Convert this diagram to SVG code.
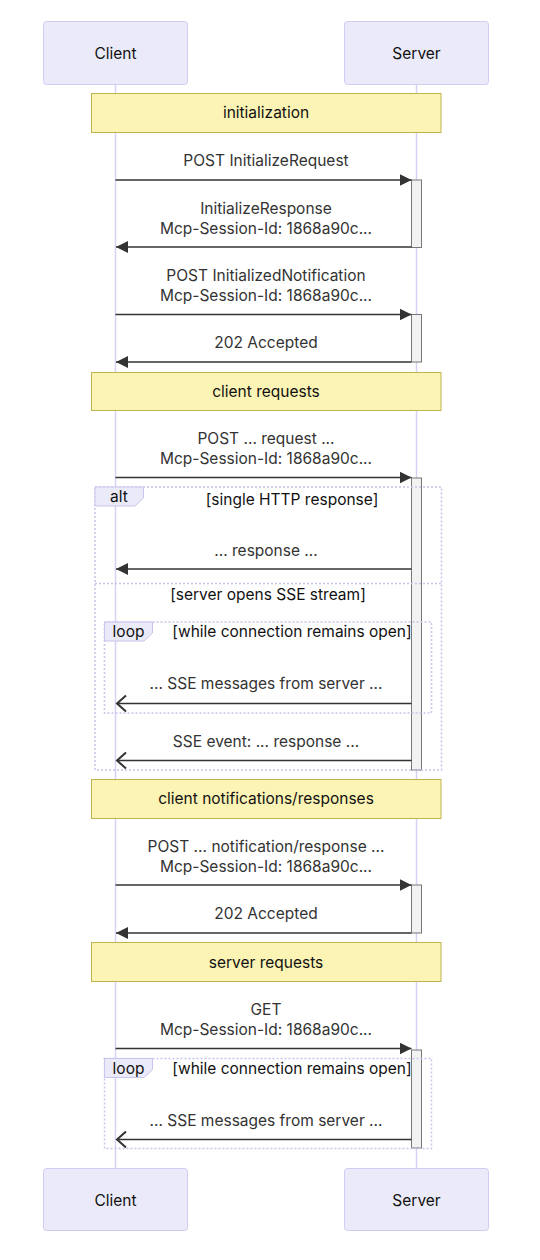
<svg xmlns="http://www.w3.org/2000/svg" width="540" height="1260" viewBox="0 0 540 1260">
<style>
text{font-family:Inter,"Noto Sans",sans-serif;font-size:15.5px;text-anchor:middle}
.actor{fill:#eaeaf8;stroke:#d0ccf2;stroke-width:1}
.actor-t{fill:#111}
.life{stroke:#d6d2f3;stroke-width:1.5}
.note{fill:#fcf4b4;stroke:#bdb450;stroke-width:1}
.note-t{fill:#111}
.msg{stroke:#333;stroke-width:1.5;fill:none}
.msg-t{fill:#333}
.act{fill:#f2f2f2;stroke:#777;stroke-width:1}
.frame{fill:none;stroke:#c8c4ec;stroke-width:1.5;stroke-dasharray:2,2}
.lbl{fill:#eaeaf8;stroke:#c8c4ec;stroke-width:1}
.lbl-t{fill:#111}
</style>
<defs>
<marker id="filled" markerUnits="userSpaceOnUse" markerWidth="14" markerHeight="12" refX="12" refY="6" orient="auto">
<path d="M0,0 L12,6 L0,12 z" fill="#333"/>
</marker>
<marker id="open" markerUnits="userSpaceOnUse" markerWidth="14" markerHeight="20" refX="11" refY="10" orient="auto" overflow="visible">
<path d="M2,2 L11,10 L2,18" fill="none" stroke="#333" stroke-width="2"/>
</marker>
</defs>
<g id="lifelines">
<line class="life" x1="115.5" y1="84" x2="115.5" y2="1168"/>
<line class="life" x1="416.5" y1="84" x2="416.5" y2="1168"/>
</g>
<g id="client-top"><rect class="actor" x="43.5" y="21.5" width="144" height="63" rx="3"/><text class="actor-t" x="115.5" y="59">Client</text></g>
<g id="server-top"><rect class="actor" x="344.5" y="21.5" width="144" height="63" rx="3"/><text class="actor-t" x="416.5" y="59">Server</text></g>
<g id="client-bottom"><rect class="actor" x="43.5" y="1168.5" width="144" height="62" rx="3"/><text class="actor-t" x="115.5" y="1206">Client</text></g>
<g id="server-bottom"><rect class="actor" x="344.5" y="1168.5" width="144" height="62" rx="3"/><text class="actor-t" x="416.5" y="1206">Server</text></g>

<g id="note-init"><rect class="note" x="91.5" y="93.5" width="349.5" height="39"/><text class="note-t" x="266" y="118">initialization</text></g>
<g id="note-client-requests"><rect class="note" x="91.5" y="372.5" width="349.5" height="38"/><text class="note-t" x="266" y="397">client requests</text></g>
<g id="note-client-notif"><rect class="note" x="91.5" y="779.5" width="349.5" height="39"/><text class="note-t" x="266" y="804">client notifications/responses</text></g>
<g id="note-server-requests"><rect class="note" x="91.5" y="942.5" width="349.5" height="39"/><text class="note-t" x="266" y="967.5">server requests</text></g>

<g id="activations">
<rect class="act" x="411.5" y="180" width="10" height="67.5"/>
<rect class="act" x="411.5" y="314.5" width="10" height="47.5"/>
<rect class="act" x="411.5" y="478" width="10" height="292"/>
<rect class="act" x="411.5" y="885" width="10" height="48"/>
<rect class="act" x="411.5" y="1050" width="10" height="98"/>
</g>

<g id="frames">
<g id="alt-frame">
<rect class="frame" x="95" y="487" width="346.5" height="283"/>
<line class="frame" x1="95" y1="583.5" x2="441.5" y2="583.5"/>
<polygon class="lbl" points="95,487 143.5,487 143.5,498 135,506 95,506"/>
<text class="lbl-t" x="119" y="502">alt</text>
<text class="lbl-t" x="292" y="505">[single HTTP response]</text>
<text class="lbl-t" x="268" y="600">[server opens SSE stream]</text>
</g>
<g id="loop-frame-1">
<rect class="frame" x="104.5" y="622" width="327" height="91"/>
<polygon class="lbl" points="104.5,622 152.5,622 152.5,633 144,641 104.5,641"/>
<text class="lbl-t" x="128.5" y="637">loop</text>
<text class="lbl-t" x="292" y="637">[while connection remains open]</text>
</g>
<g id="loop-frame-2">
<rect class="frame" x="104.5" y="1058.5" width="327" height="90"/>
<polygon class="lbl" points="104.5,1058.5 152.5,1058.5 152.5,1069.5 144,1077.5 104.5,1077.5"/>
<text class="lbl-t" x="128.5" y="1074">loop</text>
<text class="lbl-t" x="292" y="1074">[while connection remains open]</text>
</g>
</g>

<g id="connectors">
<line class="msg" x1="115.5" y1="180" x2="411.5" y2="180" marker-end="url(#filled)"/>
<line class="msg" x1="411.5" y1="247" x2="116" y2="247" marker-end="url(#filled)"/>
<line class="msg" x1="115.5" y1="314.5" x2="411.5" y2="314.5" marker-end="url(#filled)"/>
<line class="msg" x1="411.5" y1="362" x2="116" y2="362" marker-end="url(#filled)"/>
<line class="msg" x1="115.5" y1="477.5" x2="411.5" y2="477.5" marker-end="url(#filled)"/>
<line class="msg" x1="411.5" y1="569" x2="116" y2="569" marker-end="url(#filled)"/>
<line class="msg" x1="411.5" y1="703.5" x2="117" y2="703.5" marker-end="url(#open)"/>
<line class="msg" x1="411.5" y1="760.5" x2="117" y2="760.5" marker-end="url(#open)"/>
<line class="msg" x1="115.5" y1="885" x2="411.5" y2="885" marker-end="url(#filled)"/>
<line class="msg" x1="411.5" y1="933" x2="116" y2="933" marker-end="url(#filled)"/>
<line class="msg" x1="115.5" y1="1048.5" x2="411.5" y2="1048.5" marker-end="url(#filled)"/>
<line class="msg" x1="411.5" y1="1139.5" x2="117" y2="1139.5" marker-end="url(#open)"/>
</g>

<g id="message-labels">
<text class="msg-t" x="266" y="165.5">POST InitializeRequest</text>
<text class="msg-t" x="266" y="214">InitializeResponse</text>
<text class="msg-t" x="266" y="234">Mcp-Session-Id: 1868a90c...</text>
<text class="msg-t" x="266" y="281">POST InitializedNotification</text>
<text class="msg-t" x="266" y="301">Mcp-Session-Id: 1868a90c...</text>
<text class="msg-t" x="266" y="348">202 Accepted</text>
<text class="msg-t" x="266" y="443.5">POST ... request ...</text>
<text class="msg-t" x="266" y="463.5">Mcp-Session-Id: 1868a90c...</text>
<text class="msg-t" x="266" y="555.5">... response ...</text>
<text class="msg-t" x="266" y="689">... SSE messages from server ...</text>
<text class="msg-t" x="266" y="747">SSE event: ... response ...</text>
<text class="msg-t" x="266" y="852">POST ... notification/response ...</text>
<text class="msg-t" x="266" y="872">Mcp-Session-Id: 1868a90c...</text>
<text class="msg-t" x="266" y="919">202 Accepted</text>
<text class="msg-t" x="266" y="1014.5">GET</text>
<text class="msg-t" x="266" y="1034.5">Mcp-Session-Id: 1868a90c...</text>
<text class="msg-t" x="266" y="1126">... SSE messages from server ...</text>
</g>
</svg>
